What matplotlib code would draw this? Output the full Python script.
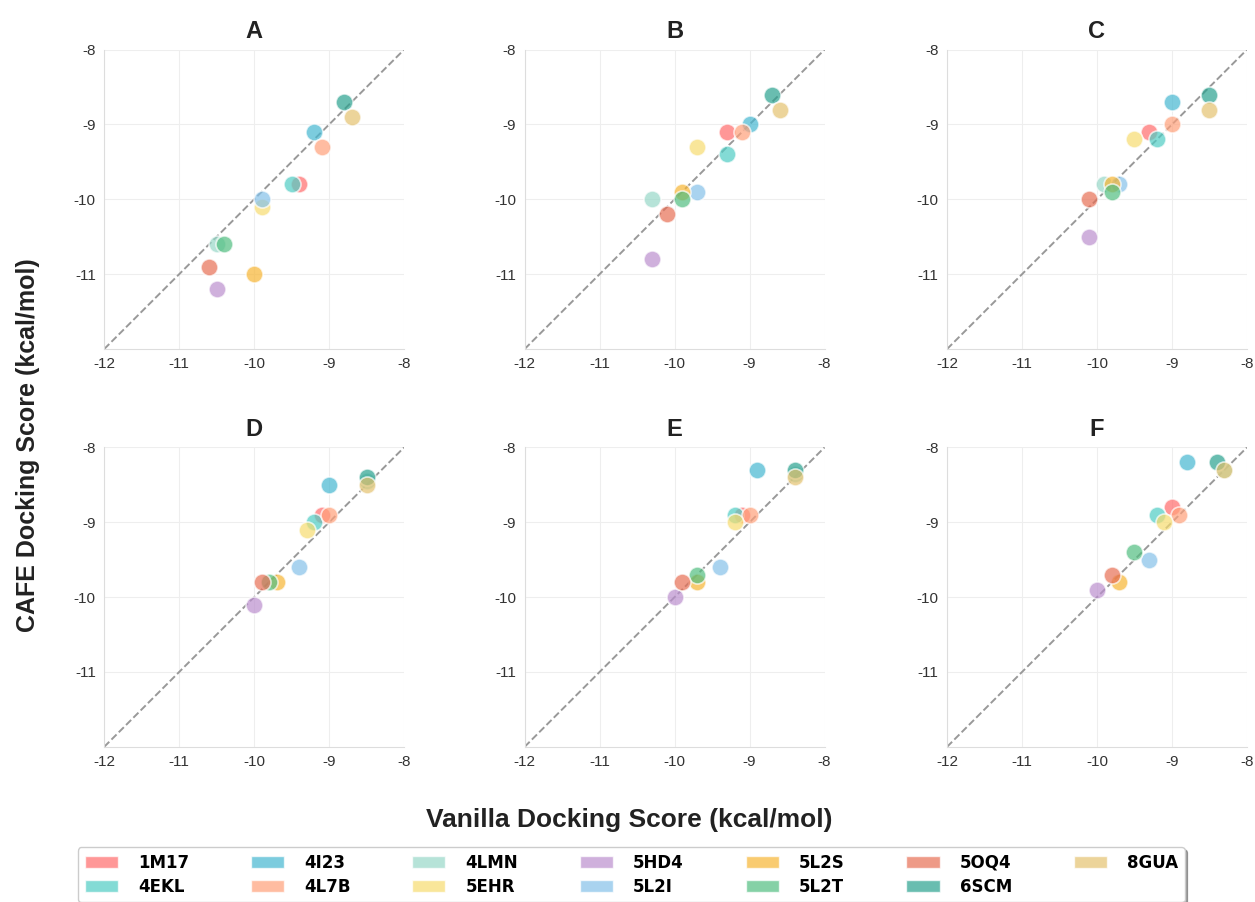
import matplotlib.pyplot as plt
from matplotlib.patches import Patch

proteins = ['1M17', '4EKL', '4I23', '4L7B', '4LMN', '5EHR', '5HD4',
            '5L2I', '5L2S', '5L2T', '5OQ4', '6SCM', '8GUA']
colors = ['#FF6B6B', '#4ECDC4', '#45B7D1', '#FFA07A', '#98D8C8', '#F7DC6F', '#BB8FCE',
          '#85C1E9', '#F7B533', '#52BE80', '#E76F55', '#2AA18F', '#E5C26F']

panel_titles = ['A', 'B', 'C', 'D', 'E', 'F']

# vanilla (x) and CAFE (y) scores per panel, in protein order
vanilla_A = [-9.4, -9.5, -9.2, -9.1, -10.5, -9.9, -10.5, -9.9, -10.0, -10.4, -10.6, -8.8, -8.7]
cafe_A = [-9.8, -9.8, -9.1, -9.3, -10.6, -10.1, -11.2, -10.0, -11.0, -10.6, -10.9, -8.7, -8.9]

vanilla_B = [-9.3, -9.3, -9.0, -9.1, -10.3, -9.7, -10.3, -9.7, -9.9, -9.9, -10.1, -8.7, -8.6]
cafe_B = [-9.1, -9.4, -9.0, -9.1, -10.0, -9.3, -10.8, -9.9, -9.9, -10.0, -10.2, -8.6, -8.8]

vanilla_C = [-9.3, -9.2, -9.0, -9.0, -9.9, -9.5, -10.1, -9.7, -9.8, -9.8, -10.1, -8.5, -8.5]
cafe_C = [-9.1, -9.2, -8.7, -9.0, -9.8, -9.2, -10.5, -9.8, -9.8, -9.9, -10.0, -8.6, -8.8]

vanilla_D = [-9.1, -9.2, -9.0, -9.0, -8.5, -9.3, -10.0, -9.4, -9.7, -9.8, -9.9, -8.5, -8.5]
cafe_D = [-8.9, -9.0, -8.5, -8.9, -8.45, -9.1, -10.1, -9.6, -9.8, -9.8, -9.8, -8.4, -8.5]

vanilla_E = [-9.1, -9.2, -8.9, -9.0, -8.4, -9.2, -10.0, -9.4, -9.7, -9.7, -9.9, -8.4, -8.4]
cafe_E = [-8.9, -8.9, -8.3, -8.9, -8.35, -9.0, -10.0, -9.6, -9.8, -9.7, -9.8, -8.3, -8.4]

vanilla_F = [-9.0, -9.2, -8.8, -8.9, -8.3, -9.1, -10.0, -9.3, -9.7, -9.5, -9.8, -8.4, -8.3]
cafe_F = [-8.8, -8.9, -8.2, -8.9, -8.3, -9.0, -9.9, -9.5, -9.8, -9.4, -9.7, -8.2, -8.3]

vanilla_all = [vanilla_A, vanilla_B, vanilla_C, vanilla_D, vanilla_E, vanilla_F]
cafe_all = [cafe_A, cafe_B, cafe_C, cafe_D, cafe_E, cafe_F]

plt.rcParams['font.family'] = ['Liberation Sans', 'DejaVu Sans']
plt.rcParams['axes.unicode_minus'] = False

fig = plt.figure(figsize=(12.55, 9.02), dpi=100)

lefts = [0.083, 0.418, 0.7546]
bottoms = [0.613, 0.172]
w, h = 0.239, 0.332

for i in range(6):
    ax = fig.add_axes([lefts[i % 3], bottoms[i // 3], w, h])
    ax.plot([-12, -8], [-12, -8], linestyle='--', color='#999999', linewidth=1.4, zorder=1)
    for j in range(len(proteins)):
        ax.scatter(vanilla_all[i][j], cafe_all[i][j], s=150, color=colors[j], alpha=0.7,
                   edgecolor='white', linewidth=1.2, zorder=3)
    ax.set_xlim(-12, -8)
    ax.set_ylim(-12, -8)
    ax.set_xticks([-12, -11, -10, -9, -8])
    ax.set_yticks([-11, -10, -9, -8])
    ax.grid(True, color='#eeeeee', linewidth=0.8)
    ax.set_axisbelow(True)
    for side in ['top', 'right']:
        ax.spines[side].set_visible(False)
    for side in ['left', 'bottom']:
        ax.spines[side].set_color('#dddddd')
    ax.tick_params(length=0, labelsize=11, colors='#333333', pad=6)
    ax.set_title(panel_titles[i], fontsize=17, fontweight='bold', color='#222222', pad=8)

fig.text(0.022, 0.507, 'CAFE Docking Score (kcal/mol)', rotation=90, ha='center', va='center',
         fontsize=18, fontweight='bold', color='#222222')
fig.text(0.501, 0.091, 'Vanilla Docking Score (kcal/mol)', ha='center', va='center',
         fontsize=19, fontweight='bold', color='#222222')

handles = [Patch(facecolor=colors[j], alpha=0.7, edgecolor='white') for j in range(len(proteins))]
fig.legend(handles, proteins, loc='upper center', bbox_to_anchor=(0.503, 0.07), ncol=7,
           prop={'family': 'DejaVu Sans', 'weight': 'bold', 'size': 12},
           handlelength=2.0, handleheight=0.8, handletextpad=1.2, columnspacing=3.7,
           labelspacing=0.35, frameon=True, edgecolor='#cccccc',
           fancybox=True, shadow=True)

plt.savefig('out.png', dpi=100)
